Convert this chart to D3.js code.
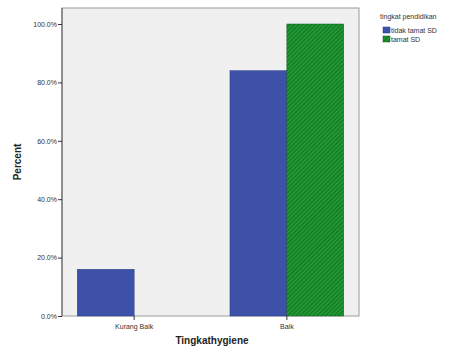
<!DOCTYPE html>
<html><head><meta charset="utf-8">
<script src="https://cdn.jsdelivr.net/npm/d3@7/dist/d3.min.js"></script>
<style>body{margin:0;background:#fff}svg{display:block}</style>
</head><body><svg id="c" width="450" height="349"></svg>
<script>
const categories = ["Kurang Baik", "Baik"];
const seriesNames = ["tidak tamat SD", "tamat SD"];
const tidakTamatSD = [16, 84];
const tamatSD = [0, 100];
const yTicks = [0, 20, 40, 60, 80, 100];

const svg = d3.select("#c");
const L = 62, R = 359, T = 8, B = 316;
const font = "Arial, 'Liberation Sans', sans-serif";

const defs = svg.append("defs");
const pat = defs.append("pattern").attr("id","hatch").attr("patternUnits","userSpaceOnUse")
  .attr("width",3).attr("height",3).attr("patternTransform","rotate(45)");
pat.append("rect").attr("width",3).attr("height",3).attr("fill","#1f9a33");
pat.append("line").attr("x1",0).attr("y1",0).attr("x2",0).attr("y2",3).attr("stroke","#0b4d17").attr("stroke-width",1.1);

svg.append("rect").attr("x",L).attr("y",T).attr("width",R-L).attr("height",B-T)
  .attr("fill","#f0f0f0").attr("stroke","#9a9a9a").attr("stroke-width",1);

const x = d3.scaleBand().domain(categories).range([L, R]).paddingInner(0.255).paddingOuter(0.1);
const xs = d3.scaleBand().domain(seriesNames).range([0, x.bandwidth()]);
const y = d3.scaleLinear().domain([0, 100]).range([B, 24]);

const colors = ["#3d51a9", "url(#hatch)"];
const strokes = ["#2a3a80", "#0e5a1c"];
const data = [tidakTamatSD, tamatSD];

data.forEach((vals, si) => {
  svg.append("g").selectAll("rect").data(vals).join("rect")
    .attr("x", (d,i) => x(categories[i]) + xs(seriesNames[si]))
    .attr("y", d => y(d))
    .attr("width", xs.bandwidth())
    .attr("height", d => B - y(d))
    .attr("fill", colors[si])
    .attr("stroke", d => d > 0 ? strokes[si] : "none")
    .attr("stroke-width", 0.5);
});

// y axis
const ya = svg.append("g").attr("transform", `translate(${L},0)`)
  .call(d3.axisLeft(y).tickValues(yTicks).tickFormat(d => d.toFixed(1) + "%").tickSize(4).tickSizeOuter(0));
ya.select(".domain").attr("stroke","#555").attr("d", `M0,${T}V${B}`);
ya.selectAll(".tick line").attr("stroke","#333");
ya.selectAll(".tick text").attr("font-family", font).attr("font-size", 7).attr("fill","#333").attr("x",-5);

// x axis
const xa = svg.append("g").attr("transform", `translate(0,${B})`)
  .call(d3.axisBottom(x).tickSize(4).tickSizeOuter(0));
xa.select(".domain").remove();
xa.selectAll(".tick line").attr("stroke","#333");
xa.selectAll(".tick text").attr("font-family", font).attr("font-size", 7).attr("fill","#333").attr("dy","0.9em");

svg.append("text").attr("x", 212).attr("y", 344).attr("text-anchor","middle")
  .attr("font-family", font).attr("font-weight","bold").attr("font-size", 10).attr("fill","#222").text("Tingkathygiene");
svg.append("text").attr("transform","translate(21,162) rotate(-90)").attr("text-anchor","middle")
  .attr("font-family", font).attr("font-weight","bold").attr("font-size", 10).attr("fill","#222").text("Percent");

// legend
const lg = svg.append("g");
lg.append("text").attr("x", 380).attr("y", 19).attr("font-family", font).attr("font-size", 7).attr("fill","#333").text("tingkat pendidikan");
seriesNames.forEach((s, i) => {
  lg.append("rect").attr("x", 383).attr("y", 27 + i*9).attr("width", 7).attr("height", 6)
    .attr("fill", colors[i]).attr("stroke", strokes[i]).attr("stroke-width", 0.5);
  lg.append("text").attr("x", 391).attr("y", 32.5 + i*9).attr("font-family", font).attr("font-size", 7).attr("fill","#333").text(s);
});
</script></body></html>
